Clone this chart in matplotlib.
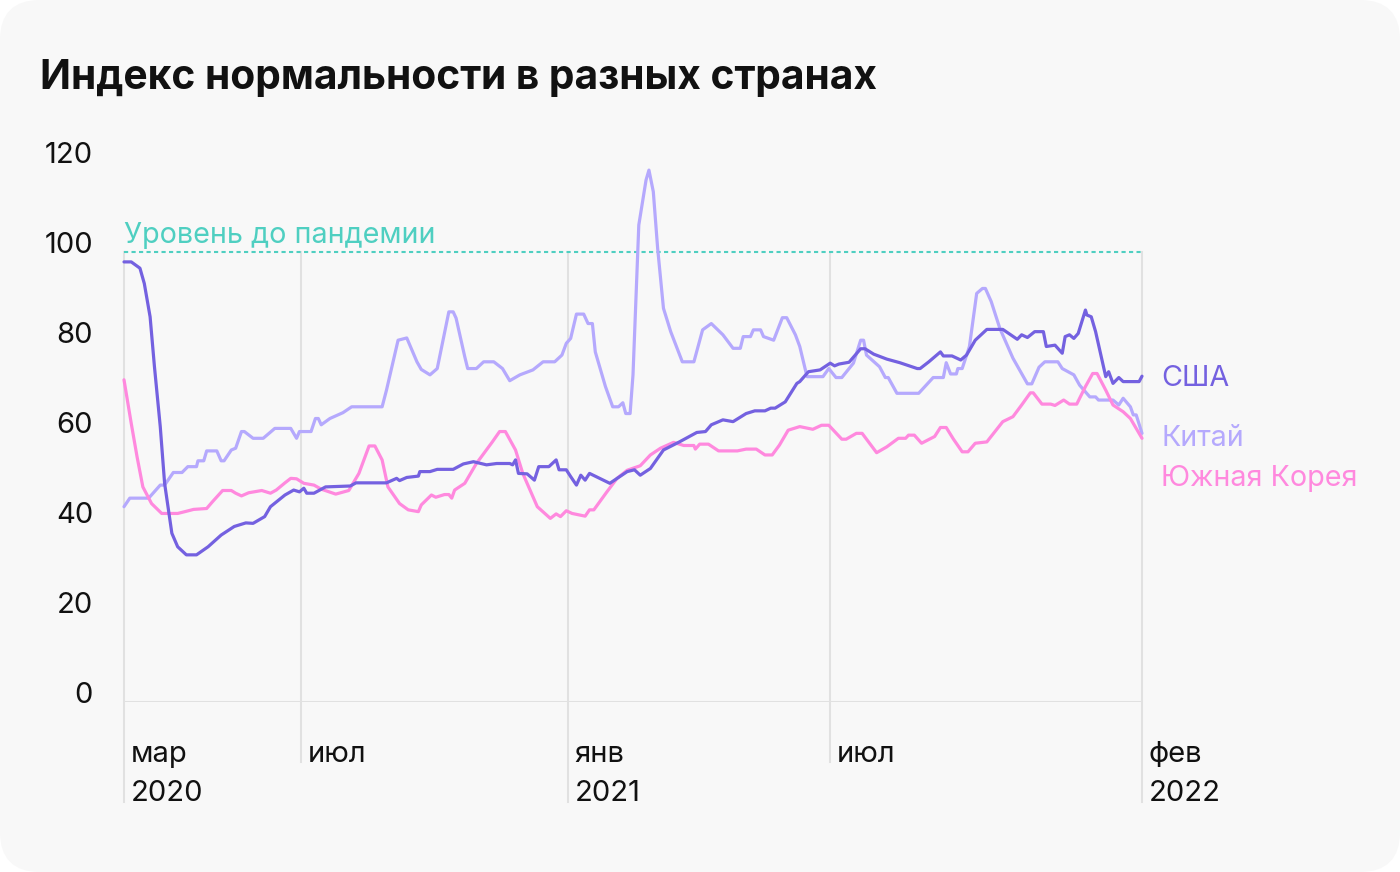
import matplotlib
matplotlib.use("Agg")
import matplotlib.pyplot as plt
import pandas as pd
from matplotlib.patches import FancyBboxPatch
from matplotlib.transforms import IdentityTransform

# --- data ---
usa_dates = [
    "2020-03-01", "2020-03-06", "2020-03-12", "2020-03-15", "2020-03-19", "2020-03-22",
    "2020-03-26", "2020-03-29", "2020-04-03", "2020-04-07", "2020-04-13", "2020-04-20",
    "2020-04-28", "2020-05-07", "2020-05-16", "2020-05-24", "2020-05-29", "2020-06-06",
    "2020-06-10", "2020-06-20", "2020-06-26", "2020-06-30", "2020-07-03", "2020-07-05",
    "2020-07-10", "2020-07-18", "2020-08-04", "2020-08-08", "2020-08-29", "2020-09-05",
    "2020-09-07", "2020-09-12", "2020-09-20", "2020-09-21", "2020-09-28", "2020-10-03",
    "2020-10-14", "2020-10-21", "2020-10-28", "2020-11-06", "2020-11-13", "2020-11-22",
    "2020-11-24", "2020-11-26", "2020-11-28", "2020-12-04", "2020-12-09", "2020-12-12",
    "2020-12-19", "2020-12-24", "2020-12-26", "2020-12-31", "2021-01-03", "2021-01-07",
    "2021-01-10", "2021-01-13", "2021-01-16", "2021-01-30", "2021-02-11", "2021-02-16",
    "2021-02-20", "2021-02-27", "2021-03-08", "2021-03-19", "2021-03-31", "2021-04-06",
    "2021-04-10", "2021-04-18", "2021-04-25", "2021-05-04", "2021-05-10", "2021-05-17",
    "2021-05-21", "2021-05-24", "2021-05-31", "2021-06-08", "2021-06-10", "2021-06-16",
    "2021-06-24", "2021-07-01", "2021-07-04", "2021-07-07", "2021-07-14", "2021-07-22",
    "2021-07-25", "2021-07-31", "2021-08-09", "2021-08-18", "2021-08-30", "2021-09-01",
    "2021-09-07", "2021-09-15", "2021-09-17", "2021-09-23", "2021-09-29", "2021-10-03",
    "2021-10-05", "2021-10-09", "2021-10-17", "2021-10-28", "2021-11-07", "2021-11-10",
    "2021-11-14", "2021-11-19", "2021-11-25", "2021-11-27", "2021-12-03", "2021-12-08",
    "2021-12-10", "2021-12-13", "2021-12-16", "2021-12-19", "2021-12-24", "2021-12-25",
    "2021-12-28", "2021-12-31", "2022-01-07", "2022-01-09", "2022-01-12", "2022-01-16",
    "2022-01-19", "2022-01-30", "2022-02-01",
]
usa_values = [
    97.8, 97.8, 96.4, 93.0, 85.6, 74.5,
    61.2, 48.6, 37.5, 34.5, 32.7, 32.7,
    34.5, 37.1, 39.0, 39.8, 39.7, 41.2,
    43.4, 46.0, 47.1, 46.7, 47.5, 46.4,
    46.4, 47.8, 48.0, 48.7, 48.7, 49.7,
    49.2, 49.9, 50.2, 51.2, 51.2, 51.7,
    51.7, 52.9, 53.4, 52.7, 53.0, 53.0,
    52.7, 53.8, 50.8, 50.7, 49.3, 52.3,
    52.3, 53.8, 51.6, 51.6, 50.1, 48.2,
    50.4, 49.3, 50.8, 48.6, 51.2, 51.6,
    50.4, 51.9, 56.0, 57.8, 59.9, 60.1,
    61.6, 62.7, 62.3, 64.1, 64.7, 64.7,
    65.3, 65.3, 66.7, 70.8, 71.2, 73.4,
    73.8, 75.3, 74.7, 75.1, 75.5, 78.5,
    78.5, 77.3, 76.2, 75.4, 74.1, 74.1,
    75.6, 77.8, 76.9, 76.9, 76.0, 77.1,
    78.2, 80.4, 82.8, 82.8, 80.6, 81.6,
    81.0, 82.3, 82.3, 79.0, 79.3, 77.5,
    81.2, 81.6, 80.8, 81.9, 87.1, 86.0,
    85.6, 82.3, 72.3, 73.4, 70.8, 72.1,
    71.2, 71.2, 72.4,
]

china_dates = [
    "2020-03-01", "2020-03-05", "2020-03-18", "2020-03-26", "2020-03-29", "2020-04-04",
    "2020-04-10", "2020-04-14", "2020-04-20", "2020-04-21", "2020-04-25", "2020-04-27",
    "2020-05-04", "2020-05-07", "2020-05-09", "2020-05-14", "2020-05-17", "2020-05-21",
    "2020-05-23", "2020-05-29", "2020-06-05", "2020-06-13", "2020-06-24", "2020-06-28",
    "2020-06-30", "2020-07-08", "2020-07-11", "2020-07-13", "2020-07-15", "2020-07-21",
    "2020-07-30", "2020-08-05", "2020-08-26", "2020-08-29", "2020-09-06", "2020-09-12",
    "2020-09-19", "2020-09-22", "2020-09-28", "2020-10-03", "2020-10-11", "2020-10-14",
    "2020-10-16", "2020-10-22", "2020-10-24", "2020-10-30", "2020-11-04", "2020-11-11",
    "2020-11-17", "2020-11-22", "2020-11-29", "2020-12-08", "2020-12-15", "2020-12-23",
    "2020-12-28", "2020-12-31", "2021-01-03", "2021-01-07", "2021-01-12", "2021-01-15",
    "2021-01-18", "2021-01-20", "2021-01-27", "2021-02-01", "2021-02-05", "2021-02-08",
    "2021-02-10", "2021-02-13", "2021-02-15", "2021-02-19", "2021-02-24", "2021-02-26",
    "2021-03-01", "2021-03-04", "2021-03-08", "2021-03-13", "2021-03-21", "2021-03-29",
    "2021-04-04", "2021-04-10", "2021-04-18", "2021-04-25", "2021-04-30", "2021-05-02",
    "2021-05-07", "2021-05-09", "2021-05-14", "2021-05-16", "2021-05-23", "2021-05-29",
    "2021-06-01", "2021-06-07", "2021-06-10", "2021-06-15", "2021-06-26", "2021-06-30",
    "2021-07-05", "2021-07-09", "2021-07-17", "2021-07-22", "2021-07-24", "2021-07-26",
    "2021-08-04", "2021-08-08", "2021-08-10", "2021-08-16", "2021-08-31", "2021-09-10",
    "2021-09-17", "2021-09-19", "2021-09-22", "2021-09-26", "2021-09-27", "2021-09-30",
    "2021-10-05", "2021-10-10", "2021-10-14", "2021-10-16", "2021-10-20", "2021-10-26",
    "2021-11-04", "2021-11-14", "2021-11-17", "2021-11-22", "2021-11-26", "2021-12-05",
    "2021-12-08", "2021-12-16", "2021-12-20", "2021-12-27", "2021-12-31", "2022-01-02",
    "2022-01-12", "2022-01-16", "2022-01-19", "2022-01-24", "2022-01-26", "2022-01-28",
    "2022-02-01",
]
china_values = [
    43.4, 45.3, 45.3, 48.2, 48.2, 51.0,
    51.0, 52.3, 52.3, 53.6, 53.6, 55.8,
    55.8, 53.6, 53.6, 56.0, 56.4, 60.1,
    60.1, 58.6, 58.6, 60.8, 60.8, 58.6,
    60.1, 60.1, 63.0, 63.0, 61.6, 63.0,
    64.3, 65.6, 65.6, 69.3, 80.4, 80.9,
    75.6, 73.9, 72.7, 74.1, 86.7, 86.7,
    85.3, 76.7, 74.1, 74.1, 75.6, 75.6,
    74.1, 71.4, 72.7, 73.8, 75.6, 75.6,
    77.1, 79.7, 80.8, 86.2, 86.2, 84.1,
    84.1, 77.8, 70.1, 65.6, 65.6, 66.5,
    64.1, 64.1, 72.7, 106.0, 116.0, 118.2,
    113.4, 100.8, 87.5, 82.3, 75.6, 75.6,
    82.7, 84.1, 81.6, 78.6, 78.6, 81.2,
    81.2, 82.7, 82.7, 81.2, 80.4, 85.4,
    85.4, 81.6, 79.0, 72.3, 72.3, 74.1,
    72.1, 72.1, 75.3, 80.4, 80.4, 77.1,
    74.5, 72.1, 72.1, 68.6, 68.6, 72.1,
    72.1, 75.4, 72.9, 72.9, 74.1, 74.1,
    79.0, 90.8, 91.9, 91.9, 89.0, 83.0,
    76.4, 70.7, 70.7, 74.4, 75.6, 75.6,
    74.1, 72.7, 70.4, 67.8, 67.8, 67.1,
    67.1, 66.0, 67.5, 65.6, 63.8, 63.8,
    59.7,
]

korea_dates = [
    "2020-03-01", "2020-03-06", "2020-03-10", "2020-03-14", "2020-03-20", "2020-03-27",
    "2020-04-07", "2020-04-12", "2020-04-18", "2020-04-27", "2020-05-01", "2020-05-08",
    "2020-05-14", "2020-05-17", "2020-05-21", "2020-05-26", "2020-06-04", "2020-06-10",
    "2020-06-14", "2020-06-20", "2020-06-24", "2020-06-28", "2020-07-03", "2020-07-10",
    "2020-07-15", "2020-07-25", "2020-08-03", "2020-08-10", "2020-08-17", "2020-08-21",
    "2020-08-26", "2020-08-30", "2020-09-07", "2020-09-13", "2020-09-20", "2020-09-22",
    "2020-09-29", "2020-10-02", "2020-10-08", "2020-10-11", "2020-10-13", "2020-10-15",
    "2020-10-22", "2020-10-30", "2020-11-10", "2020-11-15", "2020-11-19", "2020-11-26",
    "2020-12-01", "2020-12-11", "2020-12-20", "2020-12-24", "2020-12-27", "2020-12-31",
    "2021-01-04", "2021-01-13", "2021-01-16", "2021-01-19", "2021-01-28", "2021-02-04",
    "2021-02-11", "2021-02-20", "2021-02-27", "2021-03-06", "2021-03-15", "2021-03-22",
    "2021-03-29", "2021-03-30", "2021-04-02", "2021-04-08", "2021-04-15", "2021-04-28",
    "2021-05-04", "2021-05-11", "2021-05-17", "2021-05-22", "2021-05-27", "2021-06-02",
    "2021-06-08", "2021-06-10", "2021-06-19", "2021-06-25", "2021-06-30", "2021-07-09",
    "2021-07-12", "2021-07-19", "2021-07-23", "2021-08-02", "2021-08-09", "2021-08-17",
    "2021-08-22", "2021-08-24", "2021-08-28", "2021-09-02", "2021-09-11", "2021-09-15",
    "2021-09-19", "2021-09-24", "2021-09-30", "2021-10-04", "2021-10-09", "2021-10-17",
    "2021-10-28", "2021-11-04", "2021-11-10", "2021-11-16", "2021-11-18", "2021-11-24",
    "2021-11-30", "2021-12-03", "2021-12-09", "2021-12-13", "2021-12-18", "2021-12-24",
    "2021-12-29", "2022-01-01", "2022-01-07", "2022-01-12", "2022-01-19", "2022-01-24",
    "2022-02-01",
]
korea_values = [
    71.6, 61.9, 54.5, 47.8, 44.1, 41.9,
    41.9, 42.3, 42.8, 43.0, 44.5, 47.0,
    47.0, 46.4, 45.8, 46.5, 47.0, 46.4,
    47.1, 48.7, 49.7, 49.6, 48.6, 48.2,
    47.3, 46.2, 47.0, 50.8, 56.9, 56.9,
    53.8, 47.8, 44.1, 42.7, 42.3, 43.8,
    46.0, 45.5, 46.1, 46.1, 45.3, 47.1,
    48.6, 53.0, 57.8, 60.1, 60.1, 56.0,
    50.8, 43.4, 40.8, 41.8, 41.2, 42.5,
    41.9, 41.3, 42.7, 42.7, 46.7, 49.7,
    51.5, 52.5, 54.9, 56.4, 57.7, 57.0,
    57.0, 56.2, 57.3, 57.3, 55.8, 55.8,
    56.2, 56.2, 54.9, 54.9, 57.1, 60.4,
    61.0, 61.2, 60.6, 61.5, 61.5, 58.4,
    58.4, 59.7, 59.7, 55.4, 56.7, 58.6,
    58.6, 59.3, 59.3, 57.5, 59.0, 61.0,
    61.0, 58.4, 55.6, 55.6, 57.5, 57.8,
    62.3, 63.4, 66.0, 68.7, 68.7, 66.2,
    66.2, 65.9, 67.1, 66.2, 66.2, 70.1,
    73.0, 73.0, 69.3, 66.0, 64.5, 63.0,
    58.6,
]

month_ticks = ["2020-03-01", "2020-07-01", "2021-01-01", "2021-07-01", "2022-02-01"]
month_labels = ["мар", "июл", "янв", "июл", "фев"]
year_labels = ["2020", "", "2021", "", "2022"]
y_ticks = [0, 20, 40, 60, 80, 100, 120]
pre_pandemic_level = 100

# --- style ---
plt.rcParams["font.family"] = ["Inter", "DejaVu Sans"]
c_usa = "#7461e0"
c_china = "#b5a9fd"
c_korea = "#ff89de"
c_teal = "#4fcfc1"
c_grid = "#e1e1e1"
fs = 21

fig = plt.figure(figsize=(14, 8.72), dpi=100, facecolor="white")
card = FancyBboxPatch((0, 0), 1400, 872, boxstyle="round,pad=0,rounding_size=40",
                      transform=IdentityTransform(), facecolor="#f8f8f8", edgecolor="none",
                      zorder=-10)
fig.patches.append(card)

ax = fig.add_axes([124 / 1400, 170 / 872, 1018 / 1400, 540 / 872])
ax.set_facecolor("none")
for s in ax.spines.values():
    s.set_visible(False)
ax.set_xticks([])
ax.set_yticks([])
ax.set_xlim(pd.Timestamp("2020-03-01"), pd.Timestamp("2022-02-01"))
ax.set_ylim(0, 120)

# vertical grid lines, longer under the year labels
for d, yr in zip(month_ticks, year_labels):
    bottom = -100 / 540 if yr else -60 / 540
    ax.axvline(pd.Timestamp(d), ymin=bottom, ymax=pre_pandemic_level / 120,
               color=c_grid, lw=1.5, clip_on=False, zorder=1)
ax.axhline(0, color=c_grid, lw=1.5, zorder=1)

# pre-pandemic level
ax.axhline(pre_pandemic_level, color=c_teal, lw=1.5, ls=(0, (2, 1.6)), zorder=2)
ax.annotate("Уровень до пандемии", xy=(pd.Timestamp(month_ticks[0]), pre_pandemic_level),
            xytext=(0, 12), textcoords="offset points", va="center", ha="left",
            fontsize=20.7, color=c_teal)

lines = [
    (china_dates, china_values, c_china),
    (korea_dates, korea_values, c_korea),
    (usa_dates, usa_values, c_usa),
]
for dates, vals, col in lines:
    ax.plot(pd.to_datetime(dates), vals, color=col, lw=2.3, zorder=3,
            solid_joinstyle="round", solid_capstyle="round", clip_on=False)

# end labels
end = pd.Timestamp(month_ticks[-1])
ax.annotate("США", xy=(end, usa_values[-1]), xytext=(14, -2), textcoords="offset points",
            va="center", ha="left", fontsize=20.7, color=c_usa, annotation_clip=False)
ax.annotate("Китай", xy=(end, china_values[-1]), xytext=(14, -4), textcoords="offset points",
            va="center", ha="left", fontsize=20.7, color=c_china, annotation_clip=False)
ax.annotate("Южная Корея", xy=(end, korea_values[-1]), xytext=(14, -28.6), textcoords="offset points",
            va="center", ha="left", fontsize=20.7, color=c_korea, annotation_clip=False)

# y labels sit above their level, right-aligned
for v in y_ticks:
    ax.annotate(str(v), xy=(93 / 1400, v), xycoords=("figure fraction", "data"),
                xytext=(0, 5), textcoords="offset points", va="center", ha="right",
                fontsize=fs, color="#111111", annotation_clip=False)

# x labels
for d, m, yr in zip(month_ticks, month_labels, year_labels):
    ax.annotate(m, xy=(pd.Timestamp(d), 0), xytext=(5, -38), textcoords="offset points",
                va="center", ha="left", fontsize=fs, color="#111111", annotation_clip=False)
    if yr:
        ax.annotate(yr, xy=(pd.Timestamp(d), 0), xytext=(5, -66), textcoords="offset points",
                    va="center", ha="left", fontsize=fs, color="#111111", annotation_clip=False)

fig.text(40 / 1400, 1 - 78 / 872, "Индекс нормальности в разных странах",
         fontsize=29.3, fontweight="bold", va="center", ha="left", color="#111111")

fig.savefig("out.png", dpi=100, facecolor="white")
